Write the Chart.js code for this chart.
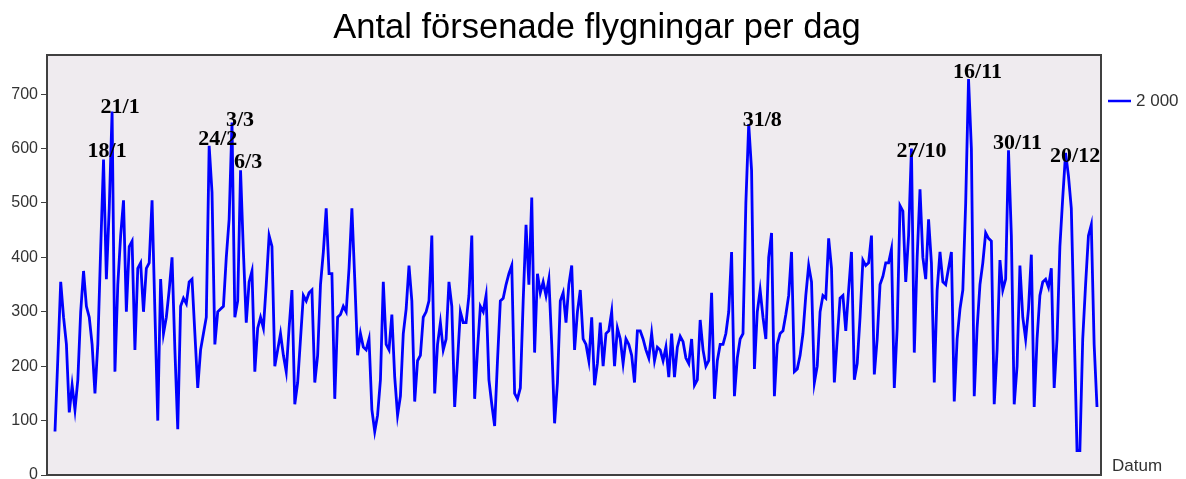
<!DOCTYPE html>
<html>
<head>
<meta charset="utf-8">
<script src="https://cdn.jsdelivr.net/npm/chart.js@4.4.1/dist/chart.umd.min.js"></script>
<style>
html,body{margin:0;padding:0;background:#ffffff;}
#wrap{width:1186px;height:479px;position:relative;}
</style>
</head>
<body>
<div id="wrap"><canvas id="c" width="1186" height="479"></canvas></div>
<script>
// ---- Data (år 2000, antal försenade flygningar per dag) ----
const chartTitle = 'Antal försenade flygningar per dag';
const seriesName = '2 000';
const xAxisTitle = 'Datum';
const year = 2000;

const jan = [80,215,355,290,240,115,165,120,175,300,375,310,290,240,150,240,415,580,360,490,668,190,350,440,505,300,420,430,230,380,390];
const feb = [300,380,390,505,300,100,360,260,290,340,400,230,84,310,325,315,355,360,260,160,230,260,290,605,520,240,300,305,310];
const mar = [400,470,648,290,320,560,410,280,355,375,190,270,290,270,350,440,420,200,230,260,220,190,270,340,130,170,250,330,320,335,340];
const apr = [170,220,350,410,490,370,370,140,290,295,310,300,380,490,360,220,260,235,230,250,120,80,110,175,355,240,230,295,180,110];
const may = [145,260,305,385,320,135,210,220,290,300,320,440,150,240,280,230,250,355,310,125,210,300,280,280,330,440,140,230,310,300,330];
const jun = [175,130,90,210,320,325,350,370,385,150,140,160,320,460,350,510,225,370,335,355,330,360,240,95,170,320,335,280,350,385];
const jul = [230,300,340,250,240,210,290,165,205,280,200,260,265,300,200,270,250,205,250,240,220,170,265,265,250,230,215,260,210,235,230];
const aug = [210,235,180,260,180,235,255,245,215,205,250,165,175,285,230,200,210,335,140,210,240,240,260,300,410,145,215,250,260,500,645];
const sep = [560,195,300,340,290,250,400,445,145,240,260,265,295,330,410,190,195,220,260,330,385,355,170,200,300,330,325,435,380,170];
const oct = [250,325,330,265,340,410,175,205,290,395,385,390,440,185,250,350,365,390,390,415,160,270,495,485,355,440,600,225,400,525,400];
const nov = [360,470,390,170,340,410,355,350,380,410,135,250,305,340,500,728,600,145,270,350,390,445,435,430,130,230,395,340,360,597];
const dec = [440,130,200,385,290,250,305,405,125,250,330,355,360,345,380,160,250,420,510,592,550,490,270,45,45,250,350,440,460,240,125];

const yTickValues = [0,100,200,300,400,500,600,700];

// annotated peaks
const peakLabels = ['18/1','21/1','24/2','3/3','6/3','31/8','27/10','16/11','30/11','20/12'];
const peakDays   = [17,20,54,62,65,243,300,320,334,354];

// ---- build from arrays ----
const values = [].concat(jan,feb,mar,apr,may,jun,jul,aug,sep,oct,nov,dec);
const dates = values.map((v,i)=>{ const d=new Date(year,0,1+i); return d.getDate()+'/'+(d.getMonth()+1); });
const points = values.map((v,i)=>({x:i,y:v}));

// label offsets (style: px relative to the peak point)
const labelDx = [-16,-11.5,-11,-6,-6.5,-6,-15,-15.5,-15.5,-15.5];
const labelDy = [-2.5,1.5,-1,3.5,-2.5,2,8,-0.5,-1.5,9];

const deco = {
  id:'deco',
  beforeDraw(chart){
    const {ctx, chartArea:a} = chart;
    ctx.save();
    ctx.fillStyle = '#EFEBEF';
    ctx.fillRect(a.left, a.top, a.right-a.left, a.bottom-a.top);
    ctx.restore();
  },
  afterDraw(chart){
    const {ctx, chartArea:a, scales} = chart;
    ctx.save();
    // plot frame
    ctx.strokeStyle = '#404040';
    ctx.lineWidth = 2;
    ctx.strokeRect(a.left, a.top, a.right-a.left, a.bottom-a.top);
    // peak labels
    ctx.fillStyle = '#000';
    ctx.font = 'bold 22px "Liberation Serif", "DejaVu Serif", serif';
    ctx.textAlign = 'left';
    ctx.textBaseline = 'alphabetic';
    peakLabels.forEach((t,k)=>{
      const d = peakDays[k];
      const px = scales.x.getPixelForValue(d) + labelDx[k];
      const py = scales.y.getPixelForValue(values[d]) + labelDy[k];
      ctx.fillText(t, px, py);
    });
    // title
    ctx.fillStyle = '#000';
    ctx.font = '34.5px "Liberation Sans", Arial, sans-serif';
    ctx.textAlign = 'center';
    ctx.fillText(chartTitle, 597, 38);
    // legend
    const ly = 101;
    ctx.strokeStyle = '#0000FF';
    ctx.lineWidth = 2.5;
    ctx.beginPath(); ctx.moveTo(1108, ly); ctx.lineTo(1131, ly); ctx.stroke();
    ctx.fillStyle = '#333';
    ctx.font = '17px "Liberation Sans", Arial, sans-serif';
    ctx.textAlign = 'left';
    ctx.textBaseline = 'middle';
    ctx.fillText(seriesName, 1136, ly);
    // x axis title
    ctx.textBaseline = 'alphabetic';
    ctx.fillText(xAxisTitle, 1112, 471);
    ctx.restore();
  }
};

new Chart(document.getElementById('c'), {
  type:'line',
  data:{
    labels: dates,
    datasets:[{
      label: seriesName,
      data: points,
      borderColor:'#0000FF',
      backgroundColor:'#0000FF',
      borderWidth:2.8,
      borderJoinStyle:'miter',
      pointRadius:0,
      tension:0,
      fill:false
    }]
  },
  options:{
    responsive:false,
    animation:false,
    devicePixelRatio:1,
    layout:{padding:{top:55,right:85,bottom:4,left:0}},
    plugins:{legend:{display:false}, tooltip:{enabled:false}, title:{display:false}},
    scales:{
      x:{
        type:'linear', display:false,
        min:-2.8, max:366.4
      },
      y:{
        min:0, max:772,
        afterBuildTicks(s){ s.ticks = yTickValues.map(v=>({value:v})); },
        afterFit(s){ s.width = 47; s.paddingTop = 0; s.paddingBottom = 0; },
        ticks:{
          color:'#333',
          font:{size:16, family:'"Liberation Sans", Arial, sans-serif'},
          padding:3
        },
        grid:{drawOnChartArea:false, drawTicks:true, tickLength:6, color:'#404040', lineWidth:1},
        border:{display:false}
      }
    }
  },
  plugins:[deco]
});
</script>
</body>
</html>
